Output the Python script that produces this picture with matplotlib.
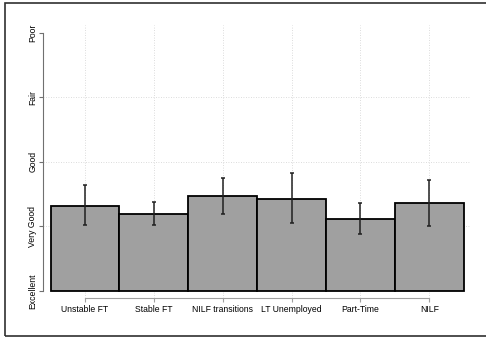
import matplotlib
matplotlib.use("Agg")
import matplotlib.pyplot as plt
from matplotlib.patches import Rectangle

plt.rcParams['font.family'] = ['Liberation Sans', 'DejaVu Sans']

categories = ["Unstable FT", "Stable FT", "NILF transitions", "LT Unemployed", "Part-Time", "NILF"]
means = [2.32, 2.19, 2.47, 2.42, 2.11, 2.36]
upper = [2.64, 2.38, 2.75, 2.82, 2.36, 2.72]
lower = [2.02, 2.02, 2.19, 2.05, 1.88, 2.00]
y_levels = [1, 2, 3, 4, 5]
y_labels = ["Excellent", "Very Good", "Good", "Fair", "Poor"]
baseline = 1

fig = plt.figure(figsize=(4.86, 3.37), dpi=100)
ax = fig.add_axes([0.0891, 0.1166, 0.878, 0.8092])

x = list(range(1, len(categories) + 1))
heights = [m - baseline for m in means]

# grid
for yv in [2, 3, 4]:
    ax.axhline(yv, color='#d0d0d0', lw=0.6, ls=(0, (1, 2)), zorder=0)
for xv in x:
    ax.axvline(xv, color='#d0d0d0', lw=0.6, ls=(0, (1, 2)), zorder=0)

ax.bar(x, heights, bottom=baseline, width=1.0, color='#a0a0a0',
       edgecolor='black', linewidth=1.3, zorder=2)
err_lo = [m - l for m, l in zip(means, lower)]
err_hi = [u - m for m, u in zip(means, upper)]
ax.errorbar(x, means, yerr=[err_lo, err_hi], fmt='none', ecolor='#202020',
            elinewidth=1.1, capsize=1.6, capthick=1.1, zorder=3)

ax.set_xlim(0.395, 6.59)
ax.set_ylim(0.896, 5.12)

ax.spines['top'].set_visible(False)
ax.spines['right'].set_visible(False)
ax.spines['left'].set_bounds(1, 5)
ax.spines['bottom'].set_bounds(1, 6)
ax.spines['left'].set_color('#707070')
ax.spines['bottom'].set_color('#a0a0a0')
ax.spines['left'].set_linewidth(0.8)
ax.spines['bottom'].set_linewidth(0.8)

ax.set_xticks(x)
ax.set_xticklabels(categories, fontsize=6.2)
ax.set_yticks(y_levels)
ax.set_yticklabels(y_labels, fontsize=6.2, rotation=90, va='center')
ax.tick_params(axis='x', length=3, width=0.8, color='#a0a0a0', pad=2.5)
ax.tick_params(axis='y', length=3, width=0.8, color='#707070', pad=1.2)

# outer frame
fig.patches.append(Rectangle((5/486, 1/337), 1.05, (337-4)/337,
                             transform=fig.transFigure, fill=False,
                             edgecolor='#303030', lw=1.2))

fig.savefig("out.png", dpi=100)
